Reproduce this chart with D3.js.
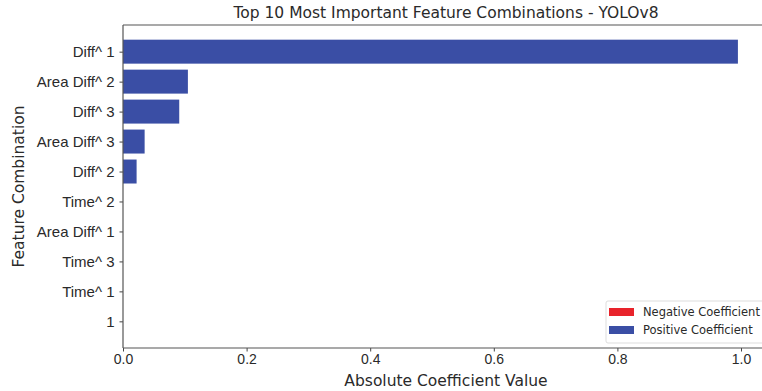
<!DOCTYPE html>
<html>
<head>
<meta charset="utf-8">
<script src="https://cdn.jsdelivr.net/npm/d3@7"></script>
<style>
  html, body { margin: 0; padding: 0; background: #fff; overflow: hidden; }
  svg { display: block; font-family: "DejaVu Sans", sans-serif; }
</style>
</head>
<body>
<svg id="chart" width="762" height="391"></svg>
<script>
// Feature combinations, ranked by importance (top first)
const features = ["Diff^ 1", "Area Diff^ 2", "Diff^ 3", "Area Diff^ 3", "Diff^ 2",
                  "Time^ 2", "Area Diff^ 1", "Time^ 3", "Time^ 1", "1"];
// Absolute coefficient values
const absValues = [0.995, 0.105, 0.091, 0.035, 0.022, 0, 0, 0, 0, 0];
// Sign of each coefficient (1 = positive, -1 = negative)
const signs = [1, 1, 1, 1, 1, 1, 1, 1, 1, 1];
const xTicks = [0, 0.2, 0.4, 0.6, 0.8, 1.0];
const legendItems = ["Negative Coefficient", "Positive Coefficient"];

const posColor = "#3a4ea5";
const negColor = "#e8232b";
const textColor = "#2a2a2a";

const svg = d3.select("#chart");
const margin = { left: 123, top: 25, right: -8, bottom: 43 };
const W = 762, H = 391;
const plotW = W - margin.left - margin.right;
const plotH = H - margin.top - margin.bottom;

const g = svg.append("g").attr("transform", `translate(${margin.left},${margin.top})`);

// x range maps 0..1 onto the span between the left spine and the 1.0 tick
const x = d3.scaleLinear().domain([0, 1]).range([0, 618]);
const n = features.length;
const y = d3.scaleLinear().domain([-0.89, n - 1 + 0.89]).range([0, plotH]);
const barH = y(0.4) - y(-0.4);

// Bars
g.selectAll("rect.bar")
  .data(features)
  .join("rect")
  .attr("class", "bar")
  .attr("x", x(0))
  .attr("y", (d, i) => y(i) - barH / 2)
  .attr("width", (d, i) => x(absValues[i]) - x(0))
  .attr("height", barH)
  .attr("fill", (d, i) => signs[i] < 0 ? negColor : posColor);

// Axes
const xAxis = d3.axisBottom(x).tickValues(xTicks).tickFormat(d3.format(".1f")).tickSize(3.5).tickPadding(3);
const gx = g.append("g").attr("transform", `translate(0,${plotH})`).call(xAxis);
gx.select(".domain").remove();
gx.selectAll("text").attr("font-size", 14).attr("fill", textColor);
gx.selectAll("line").attr("stroke", "#444");

const yAxis = d3.axisLeft(y).tickValues(d3.range(n)).tickFormat((d) => features[d]).tickSize(3.5).tickPadding(5);
const gy = g.append("g").call(yAxis);
gy.select(".domain").remove();
gy.selectAll("text").attr("font-size", 15).attr("fill", textColor);
gy.selectAll("line").attr("stroke", "#444");

// Spines
g.append("line").attr("x1", 0).attr("x2", plotW).attr("y1", plotH).attr("y2", plotH).attr("stroke", "#555").attr("stroke-width", 1.2);
g.append("line").attr("x1", 0).attr("x2", plotW).attr("y1", 0).attr("y2", 0).attr("stroke", "#555").attr("stroke-width", 1.2);
g.append("line").attr("x1", 0).attr("x2", 0).attr("y1", 0).attr("y2", plotH).attr("stroke", "#555").attr("stroke-width", 1.2);

// Title and axis labels
svg.append("text").attr("x", 446).attr("y", 18).attr("text-anchor", "middle")
  .attr("font-size", 15.5).attr("fill", textColor)
  .text("Top 10 Most Important Feature Combinations - YOLOv8");
svg.append("text").attr("x", 446).attr("y", 386).attr("text-anchor", "middle")
  .attr("font-size", 15.5).attr("fill", textColor)
  .text("Absolute Coefficient Value");
svg.append("text").attr("transform", `translate(24,${margin.top + plotH / 2}) rotate(-90)`)
  .attr("text-anchor", "middle").attr("font-size", 15.5).attr("fill", textColor)
  .text("Feature Combination");

// Legend
const lg = svg.append("g").attr("transform", "translate(606,301)");
lg.append("rect").attr("x", 0).attr("y", 0).attr("width", 170).attr("height", 42)
  .attr("fill", "#fff").attr("fill-opacity", 0.8).attr("stroke", "#ddd").attr("rx", 2);
legendItems.forEach((label, i) => {
  lg.append("rect").attr("x", 3).attr("y", 11 + i * 18 - 4).attr("width", 25).attr("height", 8)
    .attr("fill", i === 0 ? negColor : posColor);
  lg.append("text").attr("x", 37).attr("y", 11 + i * 18 + 4)
    .attr("font-size", 11.5).attr("fill", textColor).text(label);
});
</script>
</body>
</html>
